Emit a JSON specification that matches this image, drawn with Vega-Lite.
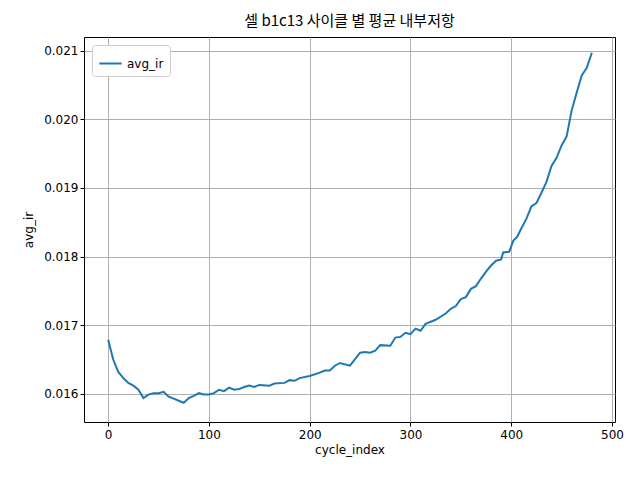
{"$schema":"https://vega.github.io/schema/vega-lite/v6.json","width":531,"height":385,"padding":{"left":84,"top":37,"right":25,"bottom":58},"autosize":{"type":"none"},
"title":{"text":"셀 b1c13 사이클 별 평균 내부저항","font":"Noto Sans CJK KR","fontSize":15,"fontWeight":"normal","color":"black","offset":8},
"config":{"font":"DejaVu Sans","view":{"stroke":"black","strokeWidth":1},"axis":{"labelFont":"DejaVu Sans","titleFont":"DejaVu Sans","labelFontSize":12,"titleFontSize":12,"titleFontWeight":"normal","labelColor":"black","titleColor":"black","domain":false,"tickColor":"black","gridColor":"#b0b0b0","gridWidth":1,"tickSize":4}},
"data":{"values":[
{"x":0,"y":0.01679},{"x":5,"y":0.0165},{"x":10,"y":0.01632},{"x":15,"y":0.01623},{"x":20,"y":0.01616},{"x":25,"y":0.01612},{"x":30,"y":0.01606},{"x":35,"y":0.01594},{"x":40,"y":0.01599},{"x":45,"y":0.01601},{"x":50,"y":0.01601},{"x":55,"y":0.01603},{"x":60,"y":0.01596},{"x":65,"y":0.01593},{"x":70,"y":0.0159},{"x":75,"y":0.01587},{"x":80,"y":0.01594},{"x":85,"y":0.01597},{"x":90,"y":0.01601},{"x":95,"y":0.01599},{"x":100,"y":0.01599},{"x":105,"y":0.01601},{"x":110,"y":0.01606},{"x":115,"y":0.01604},{"x":120,"y":0.01609},{"x":125,"y":0.01606},{"x":130,"y":0.01607},{"x":135,"y":0.0161},{"x":140,"y":0.01612},{"x":145,"y":0.0161},{"x":150,"y":0.01613},{"x":160,"y":0.01612},{"x":165,"y":0.01615},{"x":175,"y":0.01616},{"x":180,"y":0.0162},{"x":185,"y":0.01619},{"x":190,"y":0.01623},{"x":200,"y":0.01626},{"x":210,"y":0.01631},{"x":215,"y":0.01634},{"x":220,"y":0.01634},{"x":225,"y":0.01641},{"x":230,"y":0.01645},{"x":240,"y":0.01641},{"x":250,"y":0.0166},{"x":255,"y":0.01661},{"x":260,"y":0.0166},{"x":265,"y":0.01663},{"x":270,"y":0.01671},{"x":280,"y":0.0167},{"x":285,"y":0.01682},{"x":290,"y":0.01683},{"x":295,"y":0.01689},{"x":300,"y":0.01687},{"x":305,"y":0.01695},{"x":310,"y":0.01692},{"x":315,"y":0.01702},{"x":325,"y":0.01708},{"x":335,"y":0.01717},{"x":340,"y":0.01724},{"x":345,"y":0.01728},{"x":350,"y":0.01738},{"x":355,"y":0.01741},{"x":360,"y":0.01753},{"x":365,"y":0.01757},{"x":370,"y":0.01768},{"x":375,"y":0.01778},{"x":380,"y":0.01787},{"x":385,"y":0.01794},{"x":390,"y":0.01796},{"x":392,"y":0.01806},{"x":398,"y":0.01807},{"x":402,"y":0.01823},{"x":406,"y":0.01829},{"x":410,"y":0.01841},{"x":415,"y":0.01855},{"x":420,"y":0.01873},{"x":425,"y":0.01878},{"x":430,"y":0.01893},{"x":435,"y":0.01909},{"x":440,"y":0.01932},{"x":445,"y":0.01944},{"x":450,"y":0.01962},{"x":455,"y":0.01975},{"x":460,"y":0.02013},{"x":465,"y":0.02039},{"x":470,"y":0.02064},{"x":475,"y":0.02075},{"x":480,"y":0.02097}
]},
"mark":{"type":"line","strokeWidth":2,"clip":true},
"encoding":{
"x":{"field":"x","type":"quantitative","title":"cycle_index","scale":{"domain":[-24,503],"nice":false,"zero":false},"axis":{"values":[0,100,200,300,400,500],"labelPadding":3,"titlePadding":4}},
"y":{"field":"y","type":"quantitative","title":"avg_ir","scale":{"domain":[0.01559,0.0212],"nice":false,"zero":false},"axis":{"values":[0.016,0.017,0.018,0.019,0.02,0.021],"format":".3f","titlePadding":8}},
"color":{"datum":"avg_ir","scale":{"range":["#1f77b4"]},"legend":{"title":null,"orient":"top-left","offset":8,"labelFontSize":12,"labelFont":"DejaVu Sans","symbolType":"stroke","symbolSize":500,"symbolStrokeWidth":2,"strokeColor":"#cccccc","fillColor":"white","padding":6,"cornerRadius":3}}
}}
